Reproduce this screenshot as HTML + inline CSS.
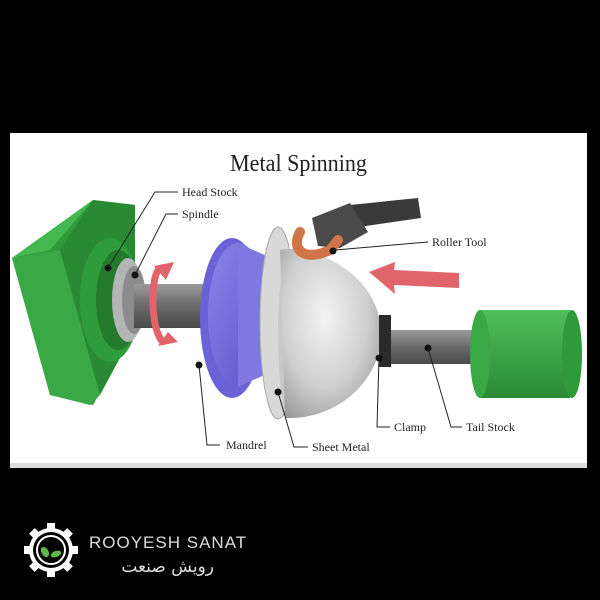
<!DOCTYPE html>
<html><head><meta charset="utf-8"><style>
html,body{margin:0;padding:0;background:#000;width:600px;height:600px;overflow:hidden}
svg{display:block}
</style></head><body>
<svg width="600" height="600" viewBox="0 0 600 600" xmlns="http://www.w3.org/2000/svg" font-family="Liberation Serif, serif">
<defs>
<linearGradient id="shaft" x1="0" y1="0" x2="0" y2="1"><stop offset="0" stop-color="#9a9a9a"/><stop offset="0.5" stop-color="#6a6a6a"/><stop offset="1" stop-color="#4a4a4a"/></linearGradient>
<radialGradient id="dome" cx="0.45" cy="0.4" r="0.7"><stop offset="0" stop-color="#f4f4f4"/><stop offset="0.6" stop-color="#cfcfcf"/><stop offset="1" stop-color="#9a9a9a"/></radialGradient>
<linearGradient id="purp" x1="0" y1="0" x2="1" y2="1"><stop offset="0" stop-color="#8a86e8"/><stop offset="1" stop-color="#5a52c8"/></linearGradient>
<linearGradient id="tail" x1="0" y1="0" x2="0" y2="1"><stop offset="0" stop-color="#4fbf5a"/><stop offset="1" stop-color="#2a8a34"/></linearGradient>
</defs>
<rect x="10" y="133" width="577" height="335" fill="#fff"/>
<rect x="10" y="463" width="577" height="5" fill="#ddd"/>
<text x="230" y="171" font-size="24" fill="#222" textLength="137" lengthAdjust="spacingAndGlyphs" font-family="Liberation Serif, serif">Metal Spinning</text>
<!-- head stock block -->
<polygon points="12,258 93,200 135,205 135,330 93,405 50,395" fill="#2e9a3a"/>
<polygon points="12,258 50,250 93,200" fill="#44b84e"/>
<polygon points="12,258 60,250 100,395 90,405 50,395" fill="#3aa845"/>
<polygon points="93,200 135,205 135,330 100,395 60,250" fill="#2a8a34"/>
<ellipse cx="110" cy="300" rx="30" ry="62" fill="#2f9c3b"/>
<ellipse cx="118" cy="300" rx="22" ry="50" fill="#237a2c"/>
<ellipse cx="128" cy="300" rx="16" ry="42" fill="#b5b5b5"/>
<ellipse cx="134" cy="300" rx="12" ry="34" fill="#8c8c8c"/>
<rect x="134" y="284" width="100" height="44" fill="url(#shaft)"/>
<!-- rotation arrow -->
<path d="M160,268 C150,275 150,330 163,342" fill="none" stroke="#e0646a" stroke-width="7"/>
<polygon points="154,266 174,262 166,280" fill="#e0646a"/>
<polygon points="158,346 178,342 168,332" fill="#e0646a"/>
<!-- mandrel -->
<ellipse cx="232" cy="318" rx="32" ry="80" fill="#6a62d6"/>
<ellipse cx="238" cy="315" rx="30" ry="72" fill="url(#purp)"/>
<path d="M238,243 L280,262 L280,368 L238,387 Z" fill="#7f78e0"/>
<!-- sheet flange -->
<ellipse cx="278" cy="323" rx="18" ry="96" fill="#d8d8d8" stroke="#aaa"/>
<!-- dome -->
<path d="M285,250 A95,83 0 0 1 285,418 Z" fill="url(#dome)"/>
<ellipse cx="290" cy="334" rx="12" ry="84" fill="#c8c8c8"/>
<path d="M280,250 C 330,240 385,300 380,340 C 375,390 330,420 285,418" fill="url(#dome)"/>
<!-- clamp & tail shaft -->
<rect x="390" y="330" width="90" height="34" fill="url(#shaft)"/>
<rect x="379" y="315" width="12" height="52" fill="#2a2a2a"/>
<!-- tail stock -->
<rect x="480" y="310" width="90" height="88" fill="url(#tail)"/>
<ellipse cx="480" cy="354" rx="10" ry="44" fill="#3aa845"/>
<ellipse cx="572" cy="354" rx="10" ry="44" fill="#2e9a3a"/>
<!-- roller tool -->
<polygon points="350,205 418,198 421,218 352,228" fill="#3a3a3a"/>
<polygon points="312,218 350,203 368,232 340,248 318,246" fill="#4a4a4a"/>
<path d="M300,232 C290,250 305,262 330,250 L338,240" fill="none" stroke="#d0744a" stroke-width="10" stroke-linecap="round"/>
<!-- red push arrow -->
<polygon points="369,272 395,262 394,270 459,273 459,288 394,285 395,294" fill="#e0646a"/>
<!-- leaders -->
<g stroke="#222" stroke-width="1" fill="none">
<polyline points="178,192 155,192 108,268"/>
<polyline points="178,214 166,214 135,275"/>
<polyline points="428,242 335,250"/>
<polyline points="379,358 377,427 390,427"/>
<polyline points="428,348 451,427 462,427"/>
<polyline points="199,365 207,445 220,445"/>
<polyline points="278,392 294,447 308,447"/>
</g>
<g fill="#111">
<circle cx="108" cy="268" r="3.5"/><circle cx="135" cy="275" r="3.5"/><circle cx="333" cy="251" r="3.5"/>
<circle cx="379" cy="358" r="3.5"/><circle cx="428" cy="348" r="3.5"/><circle cx="199" cy="365" r="3.5"/><circle cx="278" cy="392" r="3.5"/>
</g>
<g font-size="12" fill="#222">
<text x="182" y="196">Head Stock</text>
<text x="182" y="218">Spindle</text>
<text x="432" y="246">Roller Tool</text>
<text x="394" y="431">Clamp</text>
<text x="466" y="431">Tail Stock</text>
<text x="226" y="449">Mandrel</text>
<text x="312" y="451">Sheet Metal</text>
</g>
<!-- footer logo -->
<g transform="translate(51,550)">
<g fill="#fff">
<rect x="-4" y="-27" width="8" height="54"/>
<rect x="-4" y="-27" width="8" height="54" transform="rotate(45)"/>
<rect x="-4" y="-27" width="8" height="54" transform="rotate(90)"/>
<rect x="-4" y="-27" width="8" height="54" transform="rotate(135)"/>
</g>
<circle r="22" fill="#fff"/>
<circle r="18" fill="#000"/>
<circle r="14" fill="none" stroke="#fff" stroke-width="2"/>
<ellipse cx="-6" cy="2" rx="3.5" ry="5.5" fill="#5db84a" transform="rotate(-30 -6 2)"/>
<ellipse cx="5" cy="4" rx="5.5" ry="3" fill="#5db84a" transform="rotate(-20 5 4)"/>
</g>
<text x="89" y="548" font-size="17" fill="#ddd" font-family="Liberation Sans, sans-serif" letter-spacing="1">ROOYESH SANAT</text>
<text x="214" y="572" font-size="17" fill="#ddd" text-anchor="end" font-family="DejaVu Sans, sans-serif">رویش صنعت</text>
</svg>
</body></html>
